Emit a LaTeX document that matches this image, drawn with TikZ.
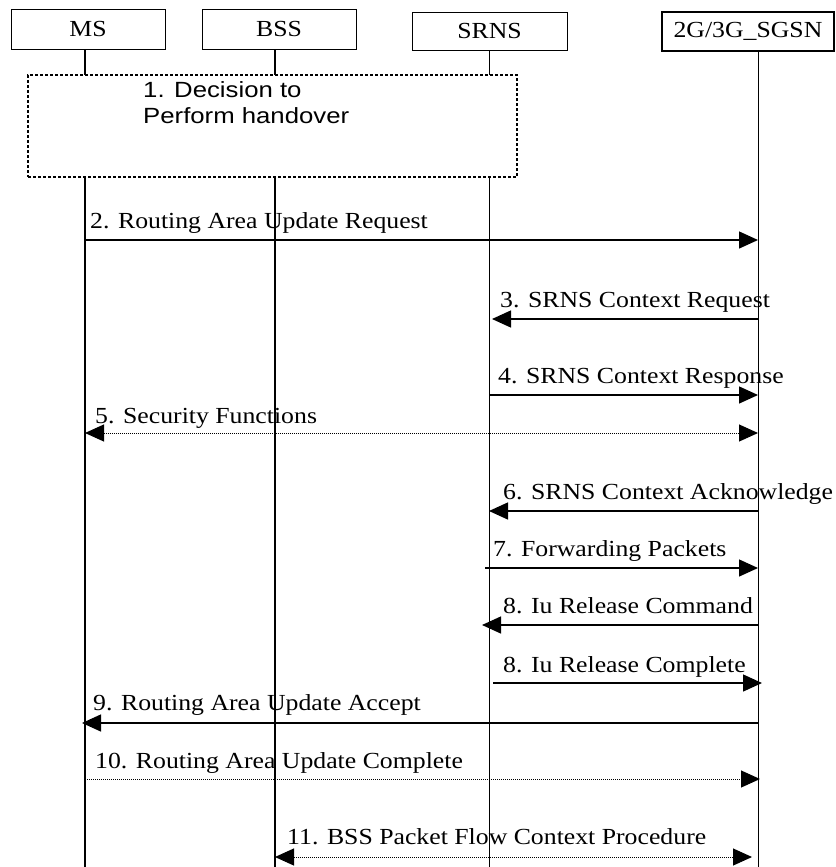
\documentclass[tikz,border=0pt]{standalone}
\usepackage{fontspec}
\setmainfont{Liberation Serif}[FakeStretch=1.12]
\newfontfamily\stepfont{Liberation Sans}[FakeStretch=1.17]
\usetikzlibrary{arrows.meta}

\begin{document}
\begin{tikzpicture}[x=1pt, y=-1pt,
		entity/.style={rectangle, draw, thick, inner sep=0pt, minimum height=40pt, font=\fontsize{23}{26}\selectfont},
		life/.style={draw, line width=1pt},
		decision/.style={rectangle, draw, fill=white, line width=1.3pt, dash pattern=on 3pt off 2pt, minimum width=489pt, minimum height=102pt},
		msg/.style={line width=1.4pt, -{Triangle[length=19pt, width=17pt]}},
		bimsg/.style={line width=1pt, dash pattern=on 1pt off 1pt, {Triangle[length=19pt, width=17pt]}-{Triangle[length=19pt, width=17pt]}},
		dotmsg/.style={line width=1pt, dash pattern=on 1pt off 1pt, -{Triangle[length=19pt, width=17pt]}},
		lbl/.style={anchor=base west, inner sep=0pt, font=\fontsize{23}{26}\selectfont}
		]
		\useasboundingbox (0,0) rectangle (835,867);
		
		\node [entity, minimum width=154pt] (ms) at (88,29) {MS};
		\node [entity, minimum width=154pt] (bss) at (279,29) {BSS};
		\node [entity, semithick, minimum width=155pt, minimum height=38pt] (srns) at (489.5,31) {SRNS};
		\node [entity, line width=1.2pt, minimum width=172pt, minimum height=39pt] (sgsn) at (748,31.5) {2G/3G\_SGSN};
		
		% lifelines
		\coordinate (ms bot) at (85,867);
		\coordinate (bss bot) at (275,867);
		\coordinate (srns bot) at (489,867);
		\coordinate (sgsn bot) at (758,867);
		\draw [life, line width=1.4pt] (ms.south -| ms bot) -- (ms bot);
		\draw [life, line width=1.4pt] (bss.south -| bss bot) -- (bss bot);
		\draw [life] (srns.south -| srns bot) -- (srns bot);
		\draw [life] (sgsn.south -| sgsn bot) -- (sgsn bot);
		
		\node [decision] (decide) at (272.5,126) {};
		\node [anchor=base west, align=left, inner sep=0pt, font=\stepfont\fontsize{22}{26}\selectfont] (decide text) at (143,123) {1. Decision to\\Perform handover};
		
		% message rows
		\coordinate (r2) at (0,240);
		\coordinate (r3) at (0,319);
		\coordinate (r4) at (0,395);
		\coordinate (r5) at (0,433);
		\coordinate (r6) at (0,511);
		\coordinate (r7) at (0,568);
		\coordinate (r8) at (0,625);
		\coordinate (r8b) at (0,683);
		\coordinate (r9) at (0,723);
		\coordinate (r10) at (0,779);
		\coordinate (r11) at (0,857);
		
		\draw [msg] (ms bot |- r2) -- (sgsn bot |- r2);
		\draw [msg] (sgsn bot |- r3) -- ([xshift=3pt]srns bot |- r3);
		\draw [msg] (srns bot |- r4) -- (sgsn bot |- r4);
		\draw [bimsg] (ms bot |- r5) -- (sgsn bot |- r5);
		\draw [msg] (sgsn bot |- r6) -- (srns bot |- r6);
		\draw [msg] ([xshift=-4pt]srns bot |- r7) -- (sgsn bot |- r7);
		\draw [msg] (sgsn bot |- r8) -- ([xshift=-7pt]srns bot |- r8);
		\draw [msg] ([xshift=4pt]srns bot |- r8b) -- ([xshift=4pt]sgsn bot |- r8b);
		\draw [msg] (sgsn bot |- r9) -- ([xshift=-3pt]ms bot |- r9);
		\draw [dotmsg] (ms bot |- r10) -- ([xshift=2pt]sgsn bot |- r10);
		\draw [bimsg] (bss bot |- r11) -- ([xshift=-6pt]sgsn bot |- r11);
		
		\node [lbl] (l2) at (90,228) {2. Routing Area Update Request};
		\node [lbl] (l3) at (500,307) {3. SRNS Context Request};
		\node [lbl] (l4) at (498,383) {4. SRNS Context Response};
		\node [lbl] (l5) at (95,423) {5. Security Functions};
		\node [lbl] (l6) at (503,499) {6. SRNS Context Acknowledge};
		\node [lbl] (l7) at (493,556) {7. Forwarding Packets};
		\node [lbl] (l8) at (503,613) {8. Iu Release Command};
		\node [lbl] (l8b) at (503,672) {8. Iu Release Complete};
		\node [lbl] (l9) at (93,710) {9. Routing Area Update Accept};
		\node [lbl] (l10) at (95,768) {10. Routing Area Update Complete};
		\node [lbl] (l11) at (287,844) {11. BSS Packet Flow Context Procedure};
	\end{tikzpicture}
\end{document}
